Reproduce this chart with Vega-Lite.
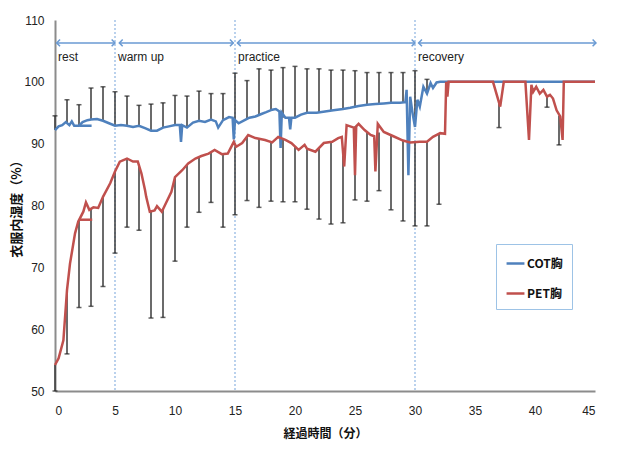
{
  "$schema": "https://vega.github.io/schema/vega-lite/v6.json",
  "width": 540,
  "height": 371,
  "autosize": {"type": "none"},
  "padding": {"left": 55, "top": 20, "right": 30, "bottom": 62},
  "background": "white",
  "config": {
    "view": {"stroke": null},
    "font": "Liberation Sans",
    "axis": {
      "grid": false,
      "ticks": false,
      "domainColor": "#8c8c8c",
      "domainWidth": 2,
      "labelFont": "Liberation Sans",
      "labelFontSize": 12,
      "labelColor": "#222222",
      "titleFont": "Noto Sans CJK JP",
      "titleFontWeight": "bold",
      "titleColor": "#111111"
    },
    "axisX": {"labelPadding": 14, "titlePadding": 12, "titleFontSize": 12},
    "axisY": {"labelPadding": 11, "titlePadding": 0, "titleFontSize": 13}
  },
  "datasets": {
    "lines": [
      {"s": "COT胸", "g": "c", "t": 0, "v": 92.2}, {"s": "COT胸", "g": "c", "t": 0.3, "v": 92.8}, {"s": "COT胸", "g": "c", "t": 0.6, "v": 93.0}, {"s": "COT胸", "g": "c", "t": 0.9, "v": 93.5}, {"s": "COT胸", "g": "c", "t": 1.2, "v": 93.0}, {"s": "COT胸", "g": "c", "t": 1.4, "v": 93.6}, {"s": "COT胸", "g": "c", "t": 1.6, "v": 92.9}, {"s": "COT胸", "g": "c", "t": 2.0, "v": 92.9}, {"s": "COT胸", "g": "c", "t": 2.3, "v": 93.5}, {"s": "COT胸", "g": "c", "t": 2.7, "v": 93.8}, {"s": "COT胸", "g": "c", "t": 3.0, "v": 93.9}, {"s": "COT胸", "g": "c", "t": 3.5, "v": 94.0}, {"s": "COT胸", "g": "c", "t": 4.0, "v": 93.7}, {"s": "COT胸", "g": "c", "t": 4.5, "v": 93.3}, {"s": "COT胸", "g": "c", "t": 5.0, "v": 92.9}, {"s": "COT胸", "g": "c", "t": 5.5, "v": 93.0}, {"s": "COT胸", "g": "c", "t": 6.0, "v": 92.9}, {"s": "COT胸", "g": "c", "t": 6.5, "v": 92.7}, {"s": "COT胸", "g": "c", "t": 7.0, "v": 92.9}, {"s": "COT胸", "g": "c", "t": 7.5, "v": 92.5}, {"s": "COT胸", "g": "c", "t": 8.0, "v": 92.1}, {"s": "COT胸", "g": "c", "t": 8.5, "v": 92.1}, {"s": "COT胸", "g": "c", "t": 9.0, "v": 92.6}, {"s": "COT胸", "g": "c", "t": 9.5, "v": 92.8}, {"s": "COT胸", "g": "c", "t": 10.0, "v": 93.0}, {"s": "COT胸", "g": "c", "t": 10.4, "v": 93.0}, {"s": "COT胸", "g": "c", "t": 10.5, "v": 90.3}, {"s": "COT胸", "g": "c", "t": 10.6, "v": 93.0}, {"s": "COT胸", "g": "c", "t": 11.0, "v": 92.6}, {"s": "COT胸", "g": "c", "t": 11.5, "v": 93.4}, {"s": "COT胸", "g": "c", "t": 12.0, "v": 93.7}, {"s": "COT胸", "g": "c", "t": 12.5, "v": 93.5}, {"s": "COT胸", "g": "c", "t": 13.0, "v": 93.9}, {"s": "COT胸", "g": "c", "t": 13.4, "v": 93.6}, {"s": "COT胸", "g": "c", "t": 13.6, "v": 92.6}, {"s": "COT胸", "g": "c", "t": 14.0, "v": 93.8}, {"s": "COT胸", "g": "c", "t": 14.5, "v": 94.3}, {"s": "COT胸", "g": "c", "t": 14.8, "v": 94.2}, {"s": "COT胸", "g": "c", "t": 14.9, "v": 90.7}, {"s": "COT胸", "g": "c", "t": 15.0, "v": 93.8}, {"s": "COT胸", "g": "c", "t": 15.3, "v": 93.3}, {"s": "COT胸", "g": "c", "t": 15.8, "v": 93.8}, {"s": "COT胸", "g": "c", "t": 16.2, "v": 94.2}, {"s": "COT胸", "g": "c", "t": 16.7, "v": 94.4}, {"s": "COT胸", "g": "c", "t": 17.2, "v": 94.8}, {"s": "COT胸", "g": "c", "t": 17.6, "v": 95.1}, {"s": "COT胸", "g": "c", "t": 18.1, "v": 95.5}, {"s": "COT胸", "g": "c", "t": 18.4, "v": 95.6}, {"s": "COT胸", "g": "c", "t": 18.7, "v": 95.2}, {"s": "COT胸", "g": "c", "t": 18.8, "v": 89.3}, {"s": "COT胸", "g": "c", "t": 18.9, "v": 95.0}, {"s": "COT胸", "g": "c", "t": 19.2, "v": 94.2}, {"s": "COT胸", "g": "c", "t": 19.5, "v": 94.2}, {"s": "COT胸", "g": "c", "t": 19.6, "v": 92.3}, {"s": "COT胸", "g": "c", "t": 19.7, "v": 94.2}, {"s": "COT胸", "g": "c", "t": 20.0, "v": 94.2}, {"s": "COT胸", "g": "c", "t": 20.5, "v": 94.7}, {"s": "COT胸", "g": "c", "t": 21.0, "v": 95.0}, {"s": "COT胸", "g": "c", "t": 21.8, "v": 95.0}, {"s": "COT胸", "g": "c", "t": 22.5, "v": 95.2}, {"s": "COT胸", "g": "c", "t": 23.2, "v": 95.4}, {"s": "COT胸", "g": "c", "t": 24.0, "v": 95.6}, {"s": "COT胸", "g": "c", "t": 24.6, "v": 95.8}, {"s": "COT胸", "g": "c", "t": 25.3, "v": 96.1}, {"s": "COT胸", "g": "c", "t": 26.0, "v": 96.3}, {"s": "COT胸", "g": "c", "t": 26.7, "v": 96.4}, {"s": "COT胸", "g": "c", "t": 27.4, "v": 96.5}, {"s": "COT胸", "g": "c", "t": 28.0, "v": 96.6}, {"s": "COT胸", "g": "c", "t": 28.75, "v": 96.6}, {"s": "COT胸", "g": "c", "t": 29.2, "v": 96.7}, {"s": "COT胸", "g": "c", "t": 29.3, "v": 98.7}, {"s": "COT胸", "g": "c", "t": 29.45, "v": 84.9}, {"s": "COT胸", "g": "c", "t": 29.6, "v": 97.6}, {"s": "COT胸", "g": "c", "t": 29.8, "v": 94.9}, {"s": "COT胸", "g": "c", "t": 30.0, "v": 92.7}, {"s": "COT胸", "g": "c", "t": 30.2, "v": 97.1}, {"s": "COT胸", "g": "c", "t": 30.4, "v": 96.0}, {"s": "COT胸", "g": "c", "t": 30.7, "v": 99.2}, {"s": "COT胸", "g": "c", "t": 31.0, "v": 98.1}, {"s": "COT胸", "g": "c", "t": 31.3, "v": 99.8}, {"s": "COT胸", "g": "c", "t": 31.5, "v": 99.0}, {"s": "COT胸", "g": "c", "t": 31.8, "v": 99.9}, {"s": "COT胸", "g": "c", "t": 32.1, "v": 100}, {"s": "COT胸", "g": "c", "t": 45, "v": 100},
      {"s": "COT胸", "g": "c2", "t": 2.05, "v": 92.9}, {"s": "COT胸", "g": "c2", "t": 3.05, "v": 92.9},
      {"s": "PET胸", "g": "p", "t": 0, "v": 54.2}, {"s": "PET胸", "g": "p", "t": 0.3, "v": 55.3}, {"s": "PET胸", "g": "p", "t": 0.7, "v": 58.2}, {"s": "PET胸", "g": "p", "t": 1.0, "v": 66.3}, {"s": "PET胸", "g": "p", "t": 1.25, "v": 70.6}, {"s": "PET胸", "g": "p", "t": 1.67, "v": 75.5}, {"s": "PET胸", "g": "p", "t": 1.94, "v": 77.4}, {"s": "PET胸", "g": "p", "t": 2.36, "v": 79.0}, {"s": "PET胸", "g": "p", "t": 2.58, "v": 80.5}, {"s": "PET胸", "g": "p", "t": 2.86, "v": 79.3}, {"s": "PET胸", "g": "p", "t": 3.2, "v": 79.7}, {"s": "PET胸", "g": "p", "t": 3.6, "v": 79.6}, {"s": "PET胸", "g": "p", "t": 4.0, "v": 81.4}, {"s": "PET胸", "g": "p", "t": 4.6, "v": 83.6}, {"s": "PET胸", "g": "p", "t": 5.0, "v": 85.5}, {"s": "PET胸", "g": "p", "t": 5.4, "v": 87.1}, {"s": "PET胸", "g": "p", "t": 6.0, "v": 87.6}, {"s": "PET胸", "g": "p", "t": 6.5, "v": 87.1}, {"s": "PET胸", "g": "p", "t": 6.9, "v": 87.1}, {"s": "PET胸", "g": "p", "t": 7.2, "v": 85.2}, {"s": "PET胸", "g": "p", "t": 7.5, "v": 82.5}, {"s": "PET胸", "g": "p", "t": 7.6, "v": 81.4}, {"s": "PET胸", "g": "p", "t": 7.9, "v": 79.0}, {"s": "PET胸", "g": "p", "t": 8.3, "v": 79.2}, {"s": "PET胸", "g": "p", "t": 8.5, "v": 79.9}, {"s": "PET胸", "g": "p", "t": 8.9, "v": 79.0}, {"s": "PET胸", "g": "p", "t": 9.3, "v": 80.6}, {"s": "PET胸", "g": "p", "t": 9.7, "v": 82.2}, {"s": "PET胸", "g": "p", "t": 10.0, "v": 84.6}, {"s": "PET胸", "g": "p", "t": 10.6, "v": 85.7}, {"s": "PET胸", "g": "p", "t": 11.1, "v": 86.8}, {"s": "PET胸", "g": "p", "t": 11.7, "v": 87.6}, {"s": "PET胸", "g": "p", "t": 12.2, "v": 88.0}, {"s": "PET胸", "g": "p", "t": 12.8, "v": 88.4}, {"s": "PET胸", "g": "p", "t": 13.3, "v": 89.0}, {"s": "PET胸", "g": "p", "t": 13.9, "v": 88.3}, {"s": "PET胸", "g": "p", "t": 14.4, "v": 88.4}, {"s": "PET胸", "g": "p", "t": 14.9, "v": 90.3}, {"s": "PET胸", "g": "p", "t": 15.1, "v": 89.5}, {"s": "PET胸", "g": "p", "t": 15.6, "v": 90.1}, {"s": "PET胸", "g": "p", "t": 16.1, "v": 91.4}, {"s": "PET胸", "g": "p", "t": 16.7, "v": 90.9}, {"s": "PET胸", "g": "p", "t": 17.5, "v": 90.6}, {"s": "PET胸", "g": "p", "t": 18.1, "v": 90.2}, {"s": "PET胸", "g": "p", "t": 18.6, "v": 91.1}, {"s": "PET胸", "g": "p", "t": 19.2, "v": 90.6}, {"s": "PET胸", "g": "p", "t": 19.7, "v": 90.1}, {"s": "PET胸", "g": "p", "t": 20.3, "v": 89.0}, {"s": "PET胸", "g": "p", "t": 20.8, "v": 89.8}, {"s": "PET胸", "g": "p", "t": 21.0, "v": 89.2}, {"s": "PET胸", "g": "p", "t": 21.7, "v": 88.7}, {"s": "PET胸", "g": "p", "t": 22.4, "v": 90.1}, {"s": "PET胸", "g": "p", "t": 23.1, "v": 90.3}, {"s": "PET胸", "g": "p", "t": 23.6, "v": 90.9}, {"s": "PET胸", "g": "p", "t": 23.9, "v": 91.1}, {"s": "PET胸", "g": "p", "t": 24.1, "v": 86.3}, {"s": "PET胸", "g": "p", "t": 24.3, "v": 93.0}, {"s": "PET胸", "g": "p", "t": 24.9, "v": 92.6}, {"s": "PET胸", "g": "p", "t": 25.0, "v": 84.9}, {"s": "PET胸", "g": "p", "t": 25.1, "v": 92.8}, {"s": "PET胸", "g": "p", "t": 25.3, "v": 93.2}, {"s": "PET胸", "g": "p", "t": 25.8, "v": 92.2}, {"s": "PET胸", "g": "p", "t": 26.3, "v": 91.4}, {"s": "PET胸", "g": "p", "t": 26.6, "v": 91.2}, {"s": "PET胸", "g": "p", "t": 26.7, "v": 85.5}, {"s": "PET胸", "g": "p", "t": 26.9, "v": 93.2}, {"s": "PET胸", "g": "p", "t": 27.4, "v": 91.9}, {"s": "PET胸", "g": "p", "t": 28.2, "v": 91.2}, {"s": "PET胸", "g": "p", "t": 29.0, "v": 90.5}, {"s": "PET胸", "g": "p", "t": 29.6, "v": 90.2}, {"s": "PET胸", "g": "p", "t": 30.4, "v": 90.3}, {"s": "PET胸", "g": "p", "t": 31.0, "v": 90.3}, {"s": "PET胸", "g": "p", "t": 31.5, "v": 91.1}, {"s": "PET胸", "g": "p", "t": 32.1, "v": 91.7}, {"s": "PET胸", "g": "p", "t": 32.5, "v": 91.6}, {"s": "PET胸", "g": "p", "t": 32.6, "v": 100}, {"s": "PET胸", "g": "p", "t": 32.7, "v": 97.6}, {"s": "PET胸", "g": "p", "t": 32.8, "v": 100}, {"s": "PET胸", "g": "p", "t": 36.5, "v": 100}, {"s": "PET胸", "g": "p", "t": 37.1, "v": 96.0}, {"s": "PET胸", "g": "p", "t": 37.4, "v": 100}, {"s": "PET胸", "g": "p", "t": 39.2, "v": 100}, {"s": "PET胸", "g": "p", "t": 39.5, "v": 90.6}, {"s": "PET胸", "g": "p", "t": 39.7, "v": 99.5}, {"s": "PET胸", "g": "p", "t": 39.85, "v": 98.4}, {"s": "PET胸", "g": "p", "t": 40.1, "v": 99.2}, {"s": "PET胸", "g": "p", "t": 40.4, "v": 98.1}, {"s": "PET胸", "g": "p", "t": 40.7, "v": 98.7}, {"s": "PET胸", "g": "p", "t": 41.0, "v": 97.6}, {"s": "PET胸", "g": "p", "t": 41.25, "v": 97.9}, {"s": "PET胸", "g": "p", "t": 41.5, "v": 97.3}, {"s": "PET胸", "g": "p", "t": 41.8, "v": 95.4}, {"s": "PET胸", "g": "p", "t": 42.1, "v": 94.4}, {"s": "PET胸", "g": "p", "t": 42.3, "v": 90.6}, {"s": "PET胸", "g": "p", "t": 42.4, "v": 100}, {"s": "PET胸", "g": "p", "t": 45, "v": 100},
      {"s": "PET胸", "g": "p2", "t": 2.0, "v": 77.7}, {"s": "PET胸", "g": "p2", "t": 3.1, "v": 77.7}
    ],
    "bars": [
      {"s": "COT胸", "t": 0, "m": 92.2, "b": 94.5}, {"s": "COT胸", "t": 1, "m": 93.3, "b": 97.1}, {"s": "COT胸", "t": 2, "m": 92.9, "b": 96.3}, {"s": "COT胸", "t": 3, "m": 93.9, "b": 99.0}, {"s": "COT胸", "t": 4, "m": 93.7, "b": 99.2}, {"s": "COT胸", "t": 5, "m": 92.9, "b": 98.4}, {"s": "COT胸", "t": 6, "m": 92.9, "b": 97.7}, {"s": "COT胸", "t": 7, "m": 92.9, "b": 96.2}, {"s": "COT胸", "t": 8, "m": 92.1, "b": 96.4}, {"s": "COT胸", "t": 9, "m": 92.6, "b": 96.6}, {"s": "COT胸", "t": 10, "m": 93.0, "b": 97.8}, {"s": "COT胸", "t": 11, "m": 92.6, "b": 97.7}, {"s": "COT胸", "t": 12, "m": 93.7, "b": 98.5}, {"s": "COT胸", "t": 13, "m": 93.9, "b": 98.1}, {"s": "COT胸", "t": 14, "m": 93.8, "b": 98.1}, {"s": "COT胸", "t": 15, "m": 93.8, "b": 101.4}, {"s": "COT胸", "t": 16, "m": 94.0, "b": 100.2}, {"s": "COT胸", "t": 17, "m": 94.6, "b": 102.1}, {"s": "COT胸", "t": 18, "m": 95.4, "b": 101.9}, {"s": "COT胸", "t": 19, "m": 94.2, "b": 102.3}, {"s": "COT胸", "t": 20, "m": 94.2, "b": 102.5}, {"s": "COT胸", "t": 21, "m": 95.0, "b": 102.1}, {"s": "COT胸", "t": 22, "m": 95.1, "b": 102.1}, {"s": "COT胸", "t": 23, "m": 95.3, "b": 101.9}, {"s": "COT胸", "t": 24, "m": 95.6, "b": 101.9}, {"s": "COT胸", "t": 25, "m": 96.0, "b": 101.8}, {"s": "COT胸", "t": 26, "m": 96.3, "b": 101.5}, {"s": "COT胸", "t": 27, "m": 96.4, "b": 101.5}, {"s": "COT胸", "t": 28, "m": 96.6, "b": 101.5}, {"s": "COT胸", "t": 29, "m": 96.7, "b": 101.5}, {"s": "COT胸", "t": 30, "m": 92.7, "b": 101.8}, {"s": "COT胸", "t": 31, "m": 98.1, "b": 100.4},
      {"s": "PET胸", "t": 0, "m": 54.2, "b": 50}, {"s": "PET胸", "t": 1, "m": 66.3, "b": 56.0}, {"s": "PET胸", "t": 2, "m": 77.6, "b": 63.5}, {"s": "PET胸", "t": 3, "m": 79.5, "b": 63.7}, {"s": "PET胸", "t": 4, "m": 81.4, "b": 66.9}, {"s": "PET胸", "t": 5, "m": 85.5, "b": 72.3}, {"s": "PET胸", "t": 6, "m": 87.6, "b": 76.5}, {"s": "PET胸", "t": 7, "m": 86.5, "b": 76.0}, {"s": "PET胸", "t": 8, "m": 79.1, "b": 61.8}, {"s": "PET胸", "t": 9, "m": 79.4, "b": 61.9}, {"s": "PET胸", "t": 10, "m": 84.6, "b": 71.0}, {"s": "PET胸", "t": 11, "m": 86.6, "b": 76.5}, {"s": "PET胸", "t": 12, "m": 87.9, "b": 78.9}, {"s": "PET胸", "t": 13, "m": 88.6, "b": 80.5}, {"s": "PET胸", "t": 14, "m": 88.3, "b": 76.5}, {"s": "PET胸", "t": 15, "m": 89.6, "b": 78.5}, {"s": "PET胸", "t": 16, "m": 91.2, "b": 80.8}, {"s": "PET胸", "t": 17, "m": 90.8, "b": 79.7}, {"s": "PET胸", "t": 18, "m": 90.3, "b": 80.7}, {"s": "PET胸", "t": 19, "m": 90.8, "b": 80.6}, {"s": "PET胸", "t": 20, "m": 89.6, "b": 80.6}, {"s": "PET胸", "t": 21, "m": 89.2, "b": 79.4}, {"s": "PET胸", "t": 22, "m": 89.4, "b": 77.8}, {"s": "PET胸", "t": 23, "m": 90.3, "b": 77.0}, {"s": "PET胸", "t": 24, "m": 88.0, "b": 77.2}, {"s": "PET胸", "t": 25, "m": 92.8, "b": 80.9}, {"s": "PET胸", "t": 26, "m": 91.9, "b": 80.7}, {"s": "PET胸", "t": 27, "m": 91.8, "b": 82.4}, {"s": "PET胸", "t": 28, "m": 91.4, "b": 79.3}, {"s": "PET胸", "t": 29, "m": 90.5, "b": 77.5}, {"s": "PET胸", "t": 30, "m": 90.3, "b": 76.7}, {"s": "PET胸", "t": 31, "m": 90.3, "b": 76.7}, {"s": "PET胸", "t": 32, "m": 91.7, "b": 80.2}, {"s": "PET胸", "t": 37, "m": 96.5, "b": 92.6}, {"s": "PET胸", "t": 41, "m": 97.6, "b": 95.9}, {"s": "PET胸", "t": 42, "m": 94.5, "b": 89.8}
    ],
    "dividers": [{"t": 5}, {"t": 15}, {"t": 30}],
    "phases": [
      {"ph": "rest", "start": 0, "t0": 0.14, "t1": 5.0},
      {"ph": "warm up", "start": 5, "t0": 5.36, "t1": 14.86},
      {"ph": "practice", "start": 15, "t0": 15.2, "t1": 30.0},
      {"ph": "recovery", "start": 30, "t0": 30.3, "t1": 45.08}
    ]
  },
  "layer": [
    {
      "data": {"name": "dividers"},
      "mark": {"type": "rule", "color": "#8DB4E2", "strokeDash": [2, 2], "strokeWidth": 1.2},
      "encoding": {
        "x": {"field": "t", "type": "quantitative", "title": "経過時間（分）", "scale": {"domain": [0, 45], "nice": false}, "axis": {"values": [0, 5, 10, 15, 20, 25, 30, 35, 40, 45]}}
      }
    },
    {
      "data": {"name": "bars"},
      "mark": {"type": "rule", "color": "#3a3a3a", "strokeWidth": 1.5},
      "encoding": {
        "x": {"field": "t", "type": "quantitative", "title": "経過時間（分）", "scale": {"domain": [0, 45], "nice": false}},
        "y": {"field": "m", "type": "quantitative", "title": "衣服内湿度（%）", "scale": {"domain": [50, 110], "nice": false}, "axis": {"values": [50, 60, 70, 80, 90, 100, 110]}},
        "y2": {"field": "b"}
      }
    },
    {
      "data": {"name": "bars"},
      "mark": {"type": "tick", "orient": "horizontal", "color": "#222222", "size": 5, "thickness": 1.5},
      "encoding": {
        "x": {"field": "t", "type": "quantitative", "title": "経過時間（分）", "scale": {"domain": [0, 45], "nice": false}},
        "y": {"field": "b", "type": "quantitative", "title": "衣服内湿度（%）", "scale": {"domain": [50, 110], "nice": false}}
      }
    },
    {
      "data": {"name": "lines"},
      "transform": [{"filter": "datum.s === 'COT胸'"}],
      "mark": {"type": "line", "strokeWidth": 2.5},
      "encoding": {
        "x": {"field": "t", "type": "quantitative", "title": "経過時間（分）", "scale": {"domain": [0, 45], "nice": false}},
        "y": {"field": "v", "type": "quantitative", "title": "衣服内湿度（%）", "scale": {"domain": [50, 110], "nice": false}},
        "detail": {"field": "g"},
        "color": {
          "field": "s", "type": "nominal",
          "scale": {"domain": ["COT胸", "PET胸"], "range": ["#4F81BD", "#C0504D"]},
          "legend": {
            "title": null, "orient": "none", "legendX": 441, "legendY": 224, "direction": "vertical",
            "padding": 9, "strokeColor": "#9DC3E6", "fillColor": "white",
            "symbolType": "stroke", "symbolSize": 320, "symbolStrokeWidth": 2.5,
            "labelFont": "Noto Sans CJK JP", "labelFontSize": 12, "labelFontWeight": "bold", "labelColor": "#111111",
            "labelOffset": 1, "rowPadding": 13
          }
        }
      }
    },
    {
      "data": {"name": "lines"},
      "transform": [{"filter": "datum.s === 'PET胸'"}],
      "mark": {"type": "line", "strokeWidth": 2.5},
      "encoding": {
        "x": {"field": "t", "type": "quantitative", "title": "経過時間（分）", "scale": {"domain": [0, 45], "nice": false}},
        "y": {"field": "v", "type": "quantitative", "title": "衣服内湿度（%）", "scale": {"domain": [50, 110], "nice": false}},
        "detail": {"field": "g"},
        "color": {"field": "s", "type": "nominal", "scale": {"domain": ["COT胸", "PET胸"], "range": ["#4F81BD", "#C0504D"]}}
      }
    },
    {
      "data": {"name": "phases"},
      "mark": {"type": "rule", "color": "#6A9AD3", "strokeWidth": 1.5},
      "encoding": {
        "x": {"field": "t0", "type": "quantitative", "title": "経過時間（分）", "scale": {"domain": [0, 45], "nice": false}},
        "x2": {"field": "t1"},
        "y": {"datum": 106.3}
      }
    },
    {
      "data": {"name": "phases"},
      "mark": {"type": "point", "shape": "M 1 -1 L 0 0 L 1 1", "filled": false, "color": "#6A9AD3", "strokeWidth": 1.5, "size": 45, "opacity": 1},
      "encoding": {
        "x": {"field": "t0", "type": "quantitative", "title": "経過時間（分）", "scale": {"domain": [0, 45], "nice": false}},
        "y": {"datum": 106.3}
      }
    },
    {
      "data": {"name": "phases"},
      "mark": {"type": "point", "shape": "M -1 -1 L 0 0 L -1 1", "filled": false, "color": "#6A9AD3", "strokeWidth": 1.5, "size": 45, "opacity": 1},
      "encoding": {
        "x": {"field": "t1", "type": "quantitative", "title": "経過時間（分）", "scale": {"domain": [0, 45], "nice": false}},
        "y": {"datum": 106.3}
      }
    },
    {
      "data": {"name": "phases"},
      "mark": {"type": "text", "align": "left", "baseline": "middle", "dx": 3, "font": "Liberation Sans", "fontSize": 12, "color": "#222222"},
      "encoding": {
        "x": {"field": "start", "type": "quantitative", "title": "経過時間（分）", "scale": {"domain": [0, 45], "nice": false}},
        "y": {"datum": 104.0},
        "text": {"field": "ph"}
      }
    }
  ]
}
